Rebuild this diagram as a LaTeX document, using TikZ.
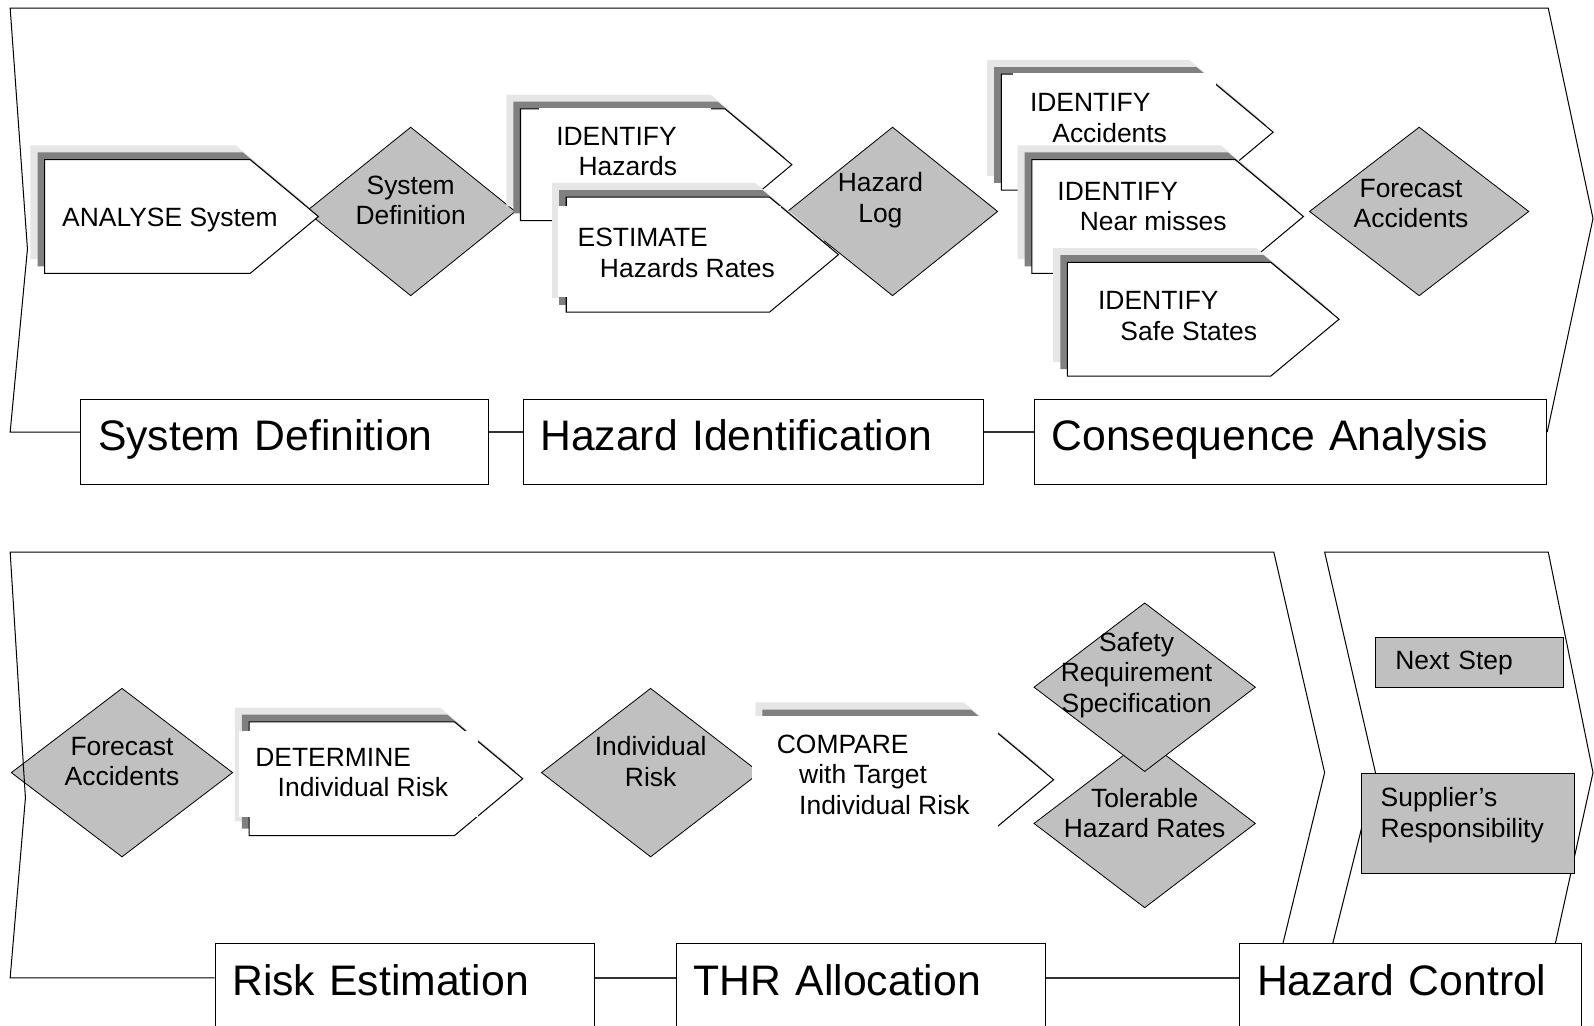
\documentclass[tikz,border=0pt]{standalone}
\usepackage{fontspec}
\setmainfont{Liberation Sans}
\usetikzlibrary{positioning,shapes.geometric,calc}
\definecolor{hzGate}{RGB}{192,192,192}
\definecolor{hzDark}{RGB}{128,128,128}
\definecolor{hzLight}{RGB}{230,230,230}

\newcommand{\stepindent}{\hspace*{22pt}}
% step arrow with its two shadow bands: name, left x, top y, body width, height
\newcommand{\stepshape}[5]{%
  \foreach \shoff/\shcol in {14/hzLight,7/hzDark}
    \fill[\shcol] (#2-\shoff,#3-\shoff) -- ++(#4,0) -- ++({0.6*#5},{#5/2})
      -- ++({-0.6*#5},{#5/2}) -- ++(-#4,0) -- cycle;
  \filldraw[stepline] (#2,#3) coordinate (#1) -- ++(#4,0) -- ++({0.6*#5},{#5/2})
    -- ++({-0.6*#5},{#5/2}) -- ++(-#4,0) -- cycle;
}

\begin{document}
\begin{tikzpicture}[x=1pt, y=-1pt,
  stepline/.style={fill=white, draw=black, line width=1pt, line join=miter},
  steptext/.style={anchor=west, inner sep=0pt, align=left, font=\fontsize{26}{30}\selectfont},
  gate/.style={diamond, draw=black, fill=hzGate, line width=0.8pt, inner sep=0pt,
    minimum width=212pt, minimum height=166pt},
  gatetext/.style={inner sep=0pt, align=center, font=\fontsize{26}{30}\selectfont},
  phase/.style={draw=black, fill=white, line width=1pt, anchor=north west, align=left,
    font=\fontsize{42}{48}\selectfont, inner xsep=17pt, inner ysep=0pt,
    text height=51pt, text depth=33pt},
  duty/.style={draw=black, fill=hzGate, line width=1pt, anchor=north west, align=left,
    inner xsep=19pt, font=\fontsize{26}{30}\selectfont},
  chevron/.style={draw=black, line width=1pt},
  link/.style={draw=black!80, line width=1.5pt}]

  \useasboundingbox (0,0) rectangle (1568,1009);
  \clip (0,0) rectangle (1568,1009);
  \coordinate (rowA) at (0,425);
  \coordinate (rowB) at (0,962);

  % Phases
  \node[phase, text width=367pt] (sysdef) at (79,392) {System Definition};
  \node[phase, text width=419pt] (hazid) at (514,392) {Hazard Identification};
  \node[phase, text width=470pt] (conseq) at (1017,392) {Consequence Analysis};
  \node[phase, text width=339pt] (riskest) at (211,928) {Risk Estimation};
  \node[phase, text width=329pt] (thralloc) at (665,928) {THR Allocation};
  \node[phase, text width=302pt] (hazctl) at (1219,928) {Hazard Control};

  \draw[link] (sysdef.east |- rowA) -- (hazid.west |- rowA);
  \draw[link] (hazid.east |- rowA) -- (conseq.west |- rowA);
  \draw[link] (riskest.east |- rowB) -- (thralloc.west |- rowB);
  \draw[link] (thralloc.east |- rowB) -- (hazctl.west |- rowB);

  % Top row
  \node[gate, minimum width=206pt] (gsys) at (404,208) {};
  \node[gatetext] (gsys-t) at ([yshift=11pt]gsys.center) {System\\Definition};
  \node[gate, minimum width=207pt] (glog) at (878,208) {};
  \node[gatetext] (glog-t) at ([xshift=-12pt,yshift=11pt]glog.center) {Hazard\\Log};
  \node[gate, minimum width=216pt] (gfore) at (1396,208) {};
  \node[gatetext] (gfore-t) at ([xshift=-8pt,yshift=8pt]gfore.center) {Forecast\\Accidents};

  \stepshape{s-analyse}{44}{157}{202}{112}
  \node[steptext] (analyse) at (61,216) {ANALYSE System};

  \stepshape{s-idhaz}{512}{107}{201}{110}
  \fill[white] (530,106.5) rectangle (699,150);
  \node[steptext] (idhaz) at (547,149) {IDENTIFY\\\stepindent Hazards};

  \stepshape{s-esthaz}{557}{194}{200}{113}
  \fill[white] (549,203) rectangle (768,292);
  \node[steptext] (esthaz) at (568,249) {ESTIMATE\\\stepindent Hazards Rates};

  \stepshape{s-idacc}{985}{73}{199}{114}
  \fill[white] (996,72) rectangle (1196,110);
  \node[steptext] (idacc) at (1013,116) {IDENTIFY\\\stepindent Accidents};

  \stepshape{s-idnear}{1015}{157}{200}{112}
  \node[steptext] (idnear) at (1040,203) {IDENTIFY\\\stepindent Near misses};

  \stepshape{s-idsafe}{1050}{258}{200}{112}
  \node[steptext] (idsafe) at (1080,311) {IDENTIFY\\\stepindent Safe States};

  % Bottom row
  \node[gate, minimum width=218pt] (gfore2) at (120,760) {};
  \node[gatetext] (gfore2-t) at ([yshift=11pt]gfore2.center) {Forecast\\Accidents};

  \stepshape{s-determine}{245}{710}{202}{112}
  \fill[white] (235,719) rectangle (470,804);
  \node[steptext] (determine) at (251,760) {DETERMINE\\\stepindent Individual Risk};

  \node[gate, minimum width=215pt] (gind) at (640,760) {};
  \node[gatetext] (gind-t) at ([yshift=11pt]gind.center) {Individual\\Risk};

  \stepshape{s-compare}{757}{705}{205}{124}
  \fill[white] (740,704) rectangle (982,835);
  \node[steptext] (compare) at (764,762) {COMPARE\\\stepindent with Target\\\stepindent Individual Risk};

  \node[gate, minimum width=218pt] (gtol) at (1126,810) {};
  \node[gatetext] (gtol-t) at ([yshift=10pt]gtol.center) {Tolerable\\Hazard Rates};
  \node[gate, minimum width=218pt] (gsafe) at (1126,676) {};
  \node[gatetext] (gsafe-t) at ([xshift=-8pt,yshift=12pt]gsafe.center) {Safety\\Requirement\\Specification};

  % Chevrons
  \draw[chevron] (sysdef.west |- rowA) -- (10,425) -- (27,245) -- (10,8) -- (1523,8)
    -- (1567,215) -- (conseq.east |- rowA);
  \draw[chevron] (riskest.west |- rowB) -- (10,962) -- (25,785) -- (10,543) -- (1253,543)
    -- (1303,760) -- (1262,928);
  \draw[chevron] (1311,928) -- (1353,760) -- (1303,543) -- (1523,543) -- (1567,760)
    -- (1530,928);

  \node[duty, minimum width=184pt, minimum height=49pt, text width=146pt] (nextstep)
    at (1353,627) {Next Step};
  \node[duty, minimum width=209pt, minimum height=99pt] (supplier) at (1339,760) {};
  \node[steptext] (supplier-t) at (1358,802) {Supplier's\\Responsibility};
\end{tikzpicture}
\end{document}
